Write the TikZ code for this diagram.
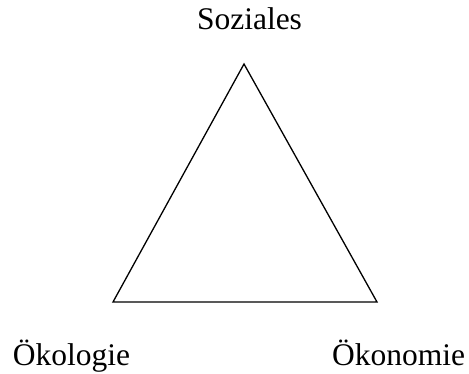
\documentclass[tikz,border=0pt]{standalone}
\usepackage{fontspec}
\setmainfont{Liberation Serif}
\begin{document}
\begin{tikzpicture}[x=1pt,y=1pt,
  lbl/.style={inner sep=0pt, anchor=base, font=\fontsize{31.5}{36}\selectfont},
  tri/.style={draw=black, line width=1.3pt, line join=miter}]
\useasboundingbox (0,0) rectangle (469,374);
\coordinate (top) at (244,310);
\coordinate (left) at (113,72);
\coordinate (right) at (377,72);
\draw[tri] (top) -- (left) -- (right) -- cycle;
\node[lbl] (soz) at (249.5,344) {Soziales};
\node[lbl] (oek) at (71.5,8) {Ökologie};
\node[lbl] (oen) at (398.5,8) {Ökonomie};
\end{tikzpicture}
\end{document}
